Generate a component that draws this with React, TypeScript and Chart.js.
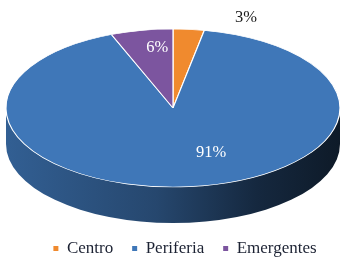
import React, { useEffect, useRef } from "react";
import { Chart, registerables } from "chart.js";
Chart.register(...registerables);

const categories = ["Centro", "Periferia", "Emergentes"];
const shares = [3, 91, 6];
const valueLabels = ["3%", "91%", "6%"];
const colors = ["#F08A2E", "#3F77B8", "#7C559F"];

const FONT = "'Liberation Serif', 'Times New Roman', serif";

function shade(hex: string, f: number) {
  const n = parseInt(hex.slice(1), 16);
  const r = Math.round(((n >> 16) & 255) * f);
  const g = Math.round(((n >> 8) & 255) * f);
  const b = Math.round((n & 255) * f);
  return `rgb(${r},${g},${b})`;
}

export default function App() {
  const ref = useRef<HTMLCanvasElement>(null);
  useEffect(() => {
    const canvas = ref.current!;
    const ellipse = { cx: 173, cy: 108, rx: 167, ry: 79, depth: 36 };
    const labelStyle = [
      { shift: 15.6, k: 1.22, color: "#1a1a1a" },
      { shift: -16.6, k: 0.61, color: "#ffffff" },
      { shift: 3.8, k: 0.77, color: "#ffffff" },
    ];
    const pie3d = {
      id: "pie3d",
      beforeDatasetsDraw(chart: any) {
        const ctx = chart.ctx as CanvasRenderingContext2D;
        const meta = chart.getDatasetMeta(0);
        const { cx, cy, rx, ry, depth } = ellipse;
        meta.data.forEach((arc: any, i: number) => {
          const p = arc.getProps(["startAngle", "endAngle"], true);
          for (const off of [-2 * Math.PI, 0, 2 * Math.PI]) {
            const a = Math.max(p.startAngle + off, 0);
            const b = Math.min(p.endAngle + off, Math.PI);
            if (b <= a) continue;
            const g = ctx.createLinearGradient(cx - rx, 0, cx + rx, 0);
            g.addColorStop(0, shade(colors[i], 0.8));
            g.addColorStop(0.45, shade(colors[i], 0.6));
            g.addColorStop(0.75, shade(colors[i], 0.34));
            g.addColorStop(1, shade(colors[i], 0.22));
            ctx.save();
            ctx.beginPath();
            ctx.moveTo(cx + rx * Math.cos(a), cy + ry * Math.sin(a));
            ctx.lineTo(cx + rx * Math.cos(a), cy + depth + ry * Math.sin(a));
            ctx.ellipse(cx, cy + depth, rx, ry, 0, a, b, false);
            ctx.lineTo(cx + rx * Math.cos(b), cy + ry * Math.sin(b));
            ctx.ellipse(cx, cy, rx, ry, 0, b, a, true);
            ctx.closePath();
            ctx.fillStyle = g;
            ctx.fill();
            ctx.restore();
          }
        });
        const first = meta.data[0].getProps(["x", "y", "outerRadius"], true);
        ctx.save();
        ctx.translate(cx, cy);
        ctx.scale(rx / first.outerRadius, ry / first.outerRadius);
        ctx.translate(-first.x, -first.y);
      },
      afterDatasetsDraw(chart: any) {
        const ctx = chart.ctx as CanvasRenderingContext2D;
        ctx.restore();
        const meta = chart.getDatasetMeta(0);
        const { cx, cy, rx, ry } = ellipse;
        ctx.save();
        ctx.font = `16.5px ${FONT}`;
        ctx.textAlign = "center";
        ctx.textBaseline = "middle";
        meta.data.forEach((arc: any, i: number) => {
          const p = arc.getProps(["startAngle", "endAngle"], true);
          const s = labelStyle[i];
          const mid = (p.startAngle + p.endAngle) / 2 + (s.shift * Math.PI) / 180;
          ctx.fillStyle = s.color;
          ctx.fillText(
            valueLabels[i],
            cx + s.k * rx * Math.cos(mid),
            cy + s.k * ry * Math.sin(mid)
          );
        });
        ctx.restore();
      },
    };

    const chart = new Chart(canvas, {
      type: "pie",
      data: {
        labels: categories,
        datasets: [
          {
            data: shares,
            backgroundColor: colors,
            borderColor: "#ffffff",
            borderWidth: 0.8,
          },
        ],
      },
      options: {
        animation: false,
        responsive: false,
        events: [],
        layout: { padding: { left: 22, bottom: -5 } },
        plugins: {
          tooltip: { enabled: false },
          legend: {
            position: "bottom",
            labels: {
              boxWidth: 5,
              boxHeight: 5,
              padding: 19,
              color: "#1c2233",
              font: { family: FONT, size: 17 },
              generateLabels: (c: any) =>
                (Chart as any).overrides.pie.plugins.legend.labels
                  .generateLabels(c)
                  .map((l: any) => ({ ...l, lineWidth: 0 })),
            },
          },
        },
      },
      plugins: [pie3d],
    });
    return () => chart.destroy();
  }, []);

  return (
    <div style={{ position: "fixed", left: 0, top: 0, width: 348, height: 262, background: "#fff" }}>
      <canvas ref={ref} width={348} height={262} />
    </div>
  );
}
